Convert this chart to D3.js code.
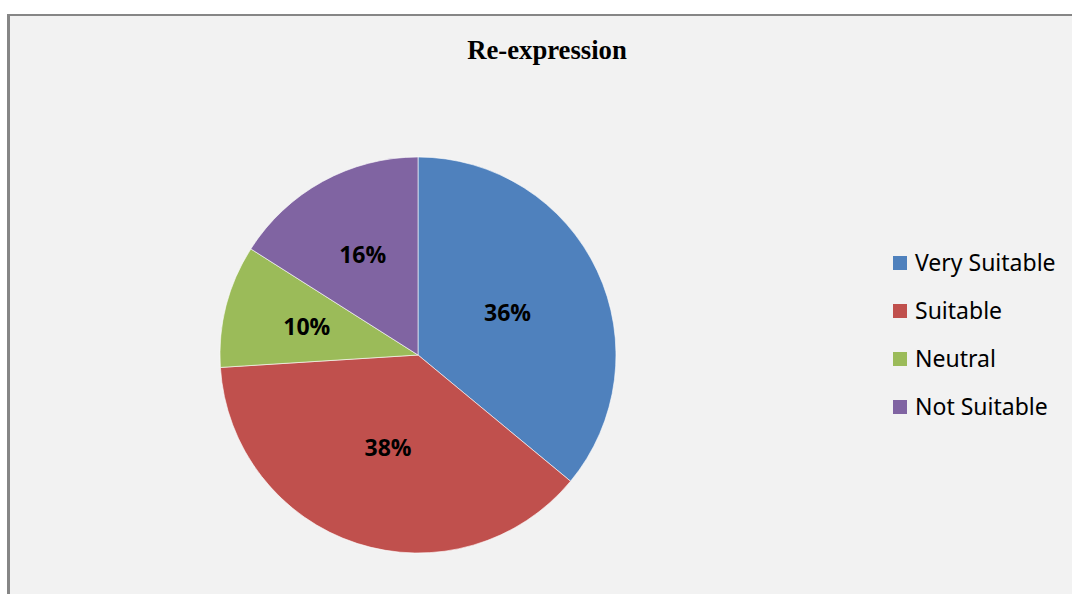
<!DOCTYPE html>
<html>
<head>
<meta charset="utf-8">
<script src="https://cdn.jsdelivr.net/npm/d3@7"></script>
<style>
  html, body { margin: 0; padding: 0; background: #ffffff; }
  svg { display: block; }
</style>
</head>
<body>
<svg id="chart" width="1072" height="594"></svg>
<script>
// Survey responses for "Re-expression"
const categories = ["Very Suitable", "Suitable", "Neutral", "Not Suitable"];
const shares = [36, 38, 10, 16];
const colors = ["#4f81bd", "#c0504d", "#9bbb59", "#8064a2"];
const title = "Re-expression";
// Distance of each percentage label from the centre, as a fraction of the radius
const labelRadius = [0.50, 0.49, 0.58, 0.58];

const svg = d3.select("#chart");
const W = 1072, H = 594;

// Chart area with its frame (extends beyond the right and bottom edges)
svg.append("rect")
  .attr("x", 8.5).attr("y", 15)
  .attr("width", W + 20).attr("height", H + 20)
  .attr("fill", "#f2f2f2");
svg.append("line")
  .attr("x1", 7).attr("x2", W).attr("y1", 15).attr("y2", 15)
  .attr("stroke", "#868686").attr("stroke-width", 2);
svg.append("line")
  .attr("x1", 8.5).attr("x2", 8.5).attr("y1", 14).attr("y2", H)
  .attr("stroke", "#868686").attr("stroke-width", 3);

// Title
svg.append("text")
  .attr("x", 547).attr("y", 59)
  .attr("text-anchor", "middle")
  .attr("font-family", "'Liberation Serif', 'Times New Roman', serif")
  .attr("font-weight", "bold")
  .attr("font-size", 26.7)
  .attr("fill", "#000")
  .text(title);

// Pie
const cx = 418, cy = 355, R = 198;
const data = categories.map((c, i) => ({ name: c, value: shares[i], color: colors[i], lr: labelRadius[i] }));
const pie = d3.pie().value(d => d.value).sort(null);
const arcs = pie(data);
const arc = d3.arc().innerRadius(0).outerRadius(R);
const labelPos = d => d3.arc().innerRadius(R * d.data.lr).outerRadius(R * d.data.lr).centroid(d);

const g = svg.append("g").attr("transform", `translate(${cx},${cy})`);
g.selectAll("path.slice")
  .data(arcs)
  .join("path")
  .attr("class", "slice")
  .attr("d", arc)
  .attr("fill", d => d.data.color)
  .attr("stroke", "rgba(255,255,255,0.6)")
  .attr("stroke-width", 1);

g.selectAll("text.pct")
  .data(arcs)
  .join("text")
  .attr("class", "pct")
  .attr("transform", d => `translate(${labelPos(d)})`)
  .attr("text-anchor", "middle")
  .attr("dy", "0.36em")
  .attr("font-family", "'Open Sans', 'Noto Sans', sans-serif")
  .attr("font-weight", "bold")
  .attr("font-size", 23)
  .attr("fill", "#000")
  .text(d => d.data.value + "%");

// Legend
const legend = svg.append("g").attr("transform", "translate(893,263)");
const rows = legend.selectAll("g.row")
  .data(data)
  .join("g")
  .attr("class", "row")
  .attr("transform", (d, i) => `translate(0,${i * 48})`);
rows.append("rect")
  .attr("x", 0).attr("y", -7)
  .attr("width", 14).attr("height", 14)
  .attr("fill", d => d.color);
rows.append("text")
  .attr("x", 22).attr("y", 0)
  .attr("dy", "0.35em")
  .attr("font-family", "'Noto Sans', 'Open Sans', sans-serif")
  .attr("font-size", 23)
  .attr("fill", "#000")
  .text(d => d.name);
</script>
</body>
</html>
